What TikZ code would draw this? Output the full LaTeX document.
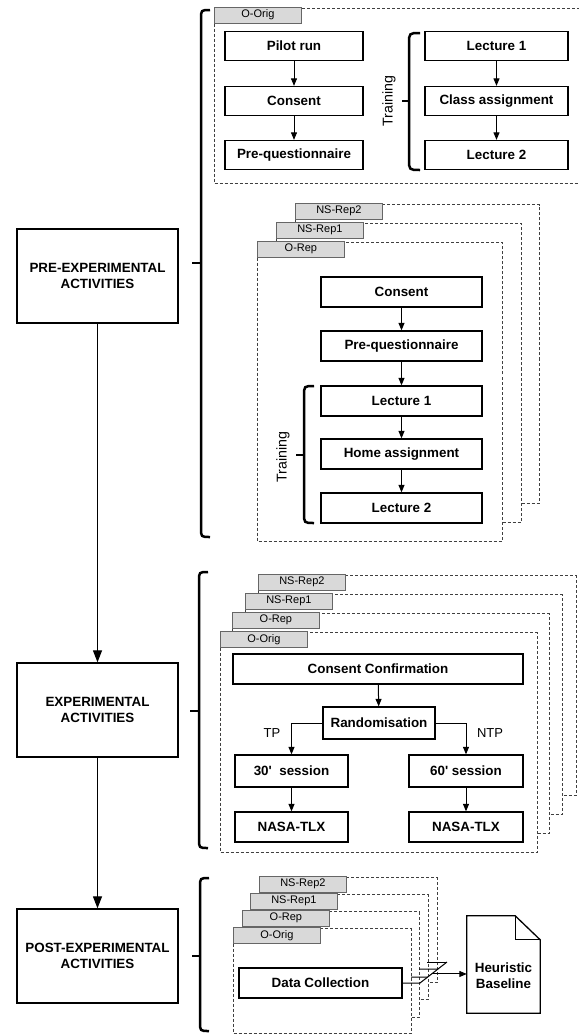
\documentclass[tikz,border=0pt]{standalone}
\usepackage{fontspec}
\setmainfont{Liberation Sans}
\usetikzlibrary{arrows.meta,calc}
\newcommand\lyr[6]{%
  \draw[frm] (#2,#3+1.5) rectangle (#4,#5);
  \node[tab] (#1) at (#2,#3) {#6};
}
\newcommand\mybrace[6]{% x, top, bottom, ticky, tickx, r
  \draw[brc] (#1+#6,#2) .. controls (#1,#2) .. (#1,#2+#6) -- (#1,#3-#6) .. controls (#1,#3) .. (#1+#6,#3);
  \draw[brc] (#1,#4) -- (#5,#4);
}
\begin{document}
\begin{tikzpicture}[x=1bp,y=-1bp,
  box/.style={draw=black,line width=1.3bp,fill=white,inner sep=0pt,font=\fontsize{13.4bp}{16bp}\selectfont\bfseries,align=center},
  bigbox/.style={box,minimum width=161bp,minimum height=94bp},
  tab/.style={draw=black!60,line width=0.8bp,fill=black!15,inner sep=0pt,minimum width=87bp,minimum height=15.5bp,anchor=north west,font=\fontsize{11bp}{13bp}\selectfont},
  frm/.style={draw=black!75,line width=0.8bp,dash pattern=on 3bp off 2bp,fill=white},
  arr/.style={line width=1bp,-{Triangle[length=7.5bp,width=6bp]}},
  bigarr/.style={line width=1.1bp,-{Triangle[length=12bp,width=9bp]}},
  brc/.style={line width=2.5bp},
  lbl/.style={font=\fontsize{13bp}{15bp}\selectfont,inner sep=0pt},
  trn/.style={font=\fontsize{14.2bp}{16bp}\selectfont,rotate=90,inner sep=0pt}
]
\useasboundingbox (0,0) rectangle (579,1034);
\clip (0,0) rectangle (579,1034);

% ---------- left column ----------
\node[bigbox] (pre) at (97.5,276) {PRE-EXPERIMENTAL\\ACTIVITIES};
\node[bigbox] (exp) at (97.5,710) {EXPERIMENTAL\\ACTIVITIES};
\node[bigbox] (post) at (97.5,956) {POST-EXPERIMENTAL\\ACTIVITIES};
\draw[bigarr] (pre.south) -- (exp.north);
\draw[bigarr] (exp.south) -- (post.north);

% ---------- braces ----------
\mybrace{201}{10}{537}{263}{192}{9}
\mybrace{199}{572}{848}{711}{190}{9}
\mybrace{200}{878}{1031}{956}{192}{9}

% ---------- pre-experimental: O-Orig ----------
\lyr{tO}{214}{7}{640}{183}{O-Orig}
\node[box,minimum width=138bp,minimum height=29bp] (pilot) at (294,46) {Pilot run};
\node[box,minimum width=138bp,minimum height=29bp] (cons1) at (294,101) {Consent};
\node[box,minimum width=138bp,minimum height=29bp] (preq1) at (294,155) {Pre-questionnaire};
\node[box,minimum width=143bp,minimum height=29bp] (lec1a) at (496.5,46) {Lecture 1};
\node[box,minimum width=143bp,minimum height=29bp] (class) at (496.5,101) {Class assignment};
\node[box,minimum width=143bp,minimum height=29bp] (lec2a) at (496.5,155) {Lecture 2};
\draw[arr] (pilot) -- (cons1);
\draw[arr] (cons1) -- (preq1);
\draw[arr] (lec1a) -- (class);
\draw[arr] (class) -- (lec2a);
\mybrace{409}{33}{170}{101}{402}{11}
\node[trn] (tr1) at (389,101) {Training};

% ---------- pre-experimental: replications ----------
\lyr{pN2}{295}{203}{539}{503}{NS-Rep2}
\lyr{pN1}{276}{222}{521}{522}{NS-Rep1}
\lyr{pO}{257}{241}{502}{541}{O-Rep}
\node[box,minimum width=161bp,minimum height=30bp] (cons2) at (401.5,292) {Consent};
\node[box,minimum width=161bp,minimum height=30bp] (preq2) at (401.5,346) {Pre-questionnaire};
\node[box,minimum width=161bp,minimum height=30bp] (lec1b) at (401.5,401) {Lecture 1};
\node[box,minimum width=161bp,minimum height=30bp] (home) at (401.5,454) {Home assignment};
\node[box,minimum width=161bp,minimum height=30bp] (lec2b) at (401.5,508) {Lecture 2};
\draw[arr] (cons2) -- (preq2);
\draw[arr] (preq2) -- (lec1b);
\draw[arr] (lec1b) -- (home);
\draw[arr] (home) -- (lec2b);
\mybrace{304}{386}{523}{455}{296}{10}
\node[trn] (tr2) at (283,457) {Training};

% ---------- experimental ----------
\lyr{eN2}{258}{574}{576}{795}{NS-Rep2}
\lyr{eN1}{245}{593}{562}{814}{NS-Rep1}
\lyr{eOR}{232}{612}{549}{833}{O-Rep}
\lyr{eOO}{220}{631}{537}{852}{O-Orig}
\node[box,minimum width=290bp,minimum height=30bp] (cc) at (378,669) {Consent Confirmation};
\node[box,minimum width=112bp,minimum height=32bp] (rand) at (379,723) {Randomisation};
\node[box,minimum width=113bp,minimum height=32bp] (s30) at (291.5,771) {30\textquotesingle\ \ session};
\node[box,minimum width=114bp,minimum height=32bp] (s60) at (466,771) {60\textquotesingle\ session};
\node[box,minimum width=113bp,minimum height=30bp] (nasa1) at (291.5,827) {NASA-TLX};
\node[box,minimum width=114bp,minimum height=30bp] (nasa2) at (466,827) {NASA-TLX};
\draw[arr] (cc) -- (rand);
\draw[arr] (rand.west) -| (s30.north);
\draw[arr] (rand.east) -| (s60.north);
\draw[arr] (s30) -- (nasa1);
\draw[arr] (s60) -- (nasa2);
\node[lbl] (tp) at (272,733) {TP};
\node[lbl] (ntp) at (490,733) {NTP};

% ---------- post-experimental ----------
\lyr{qN2}{259}{876}{437}{982}{NS-Rep2}
\lyr{qN1}{250}{893}{428}{999}{NS-Rep1}
\lyr{qOR}{242}{910}{419}{1017}{O-Rep}
\lyr{qOO}{233}{927}{411}{1033}{O-Orig}
\node[box,minimum width=163bp,minimum height=30bp] (dc) at (320.5,983) {Data Collection};

\node[minimum width=73bp,minimum height=97bp,inner sep=0pt] (hb) at (503.5,964.5) {};
\draw[line width=1.3bp,fill=white] (hb.north west) -- ($(hb.north east)+(-25,0)$) -- ($(hb.north east)+(0,24)$) -- (hb.south east) -- (hb.south west) -- cycle;
\draw[line width=1.1bp] ($(hb.north east)+(-25,0)$) -- ($(hb.north east)+(-25,24)$) -- ($(hb.north east)+(0,24)$);
\node[box,draw=none,fill=none] (hbt) at (503.5,976) {Heuristic\\Baseline};

\coordinate (d0) at (420,983);
\coordinate (d3) at (447,962);
\coordinate (l1) at (411,977);
\coordinate (l2) at (419,969);
\coordinate (l3) at (427,962);
\draw[line width=1bp] (dc.east) -- (d0) -- (d3);
\draw[line width=1bp] (l1) -- ($(d0)!0.286!(d3)$);
\draw[line width=1bp] (l2) -- ($(d0)!0.667!(d3)$);
\draw[line width=1bp] (l3) -- (d3);
\coordinate (mx) at ($(d0)!0.43!(d3)$);
\draw[arr] (mx) -- (hb.west |- mx);
\end{tikzpicture}
\end{document}
